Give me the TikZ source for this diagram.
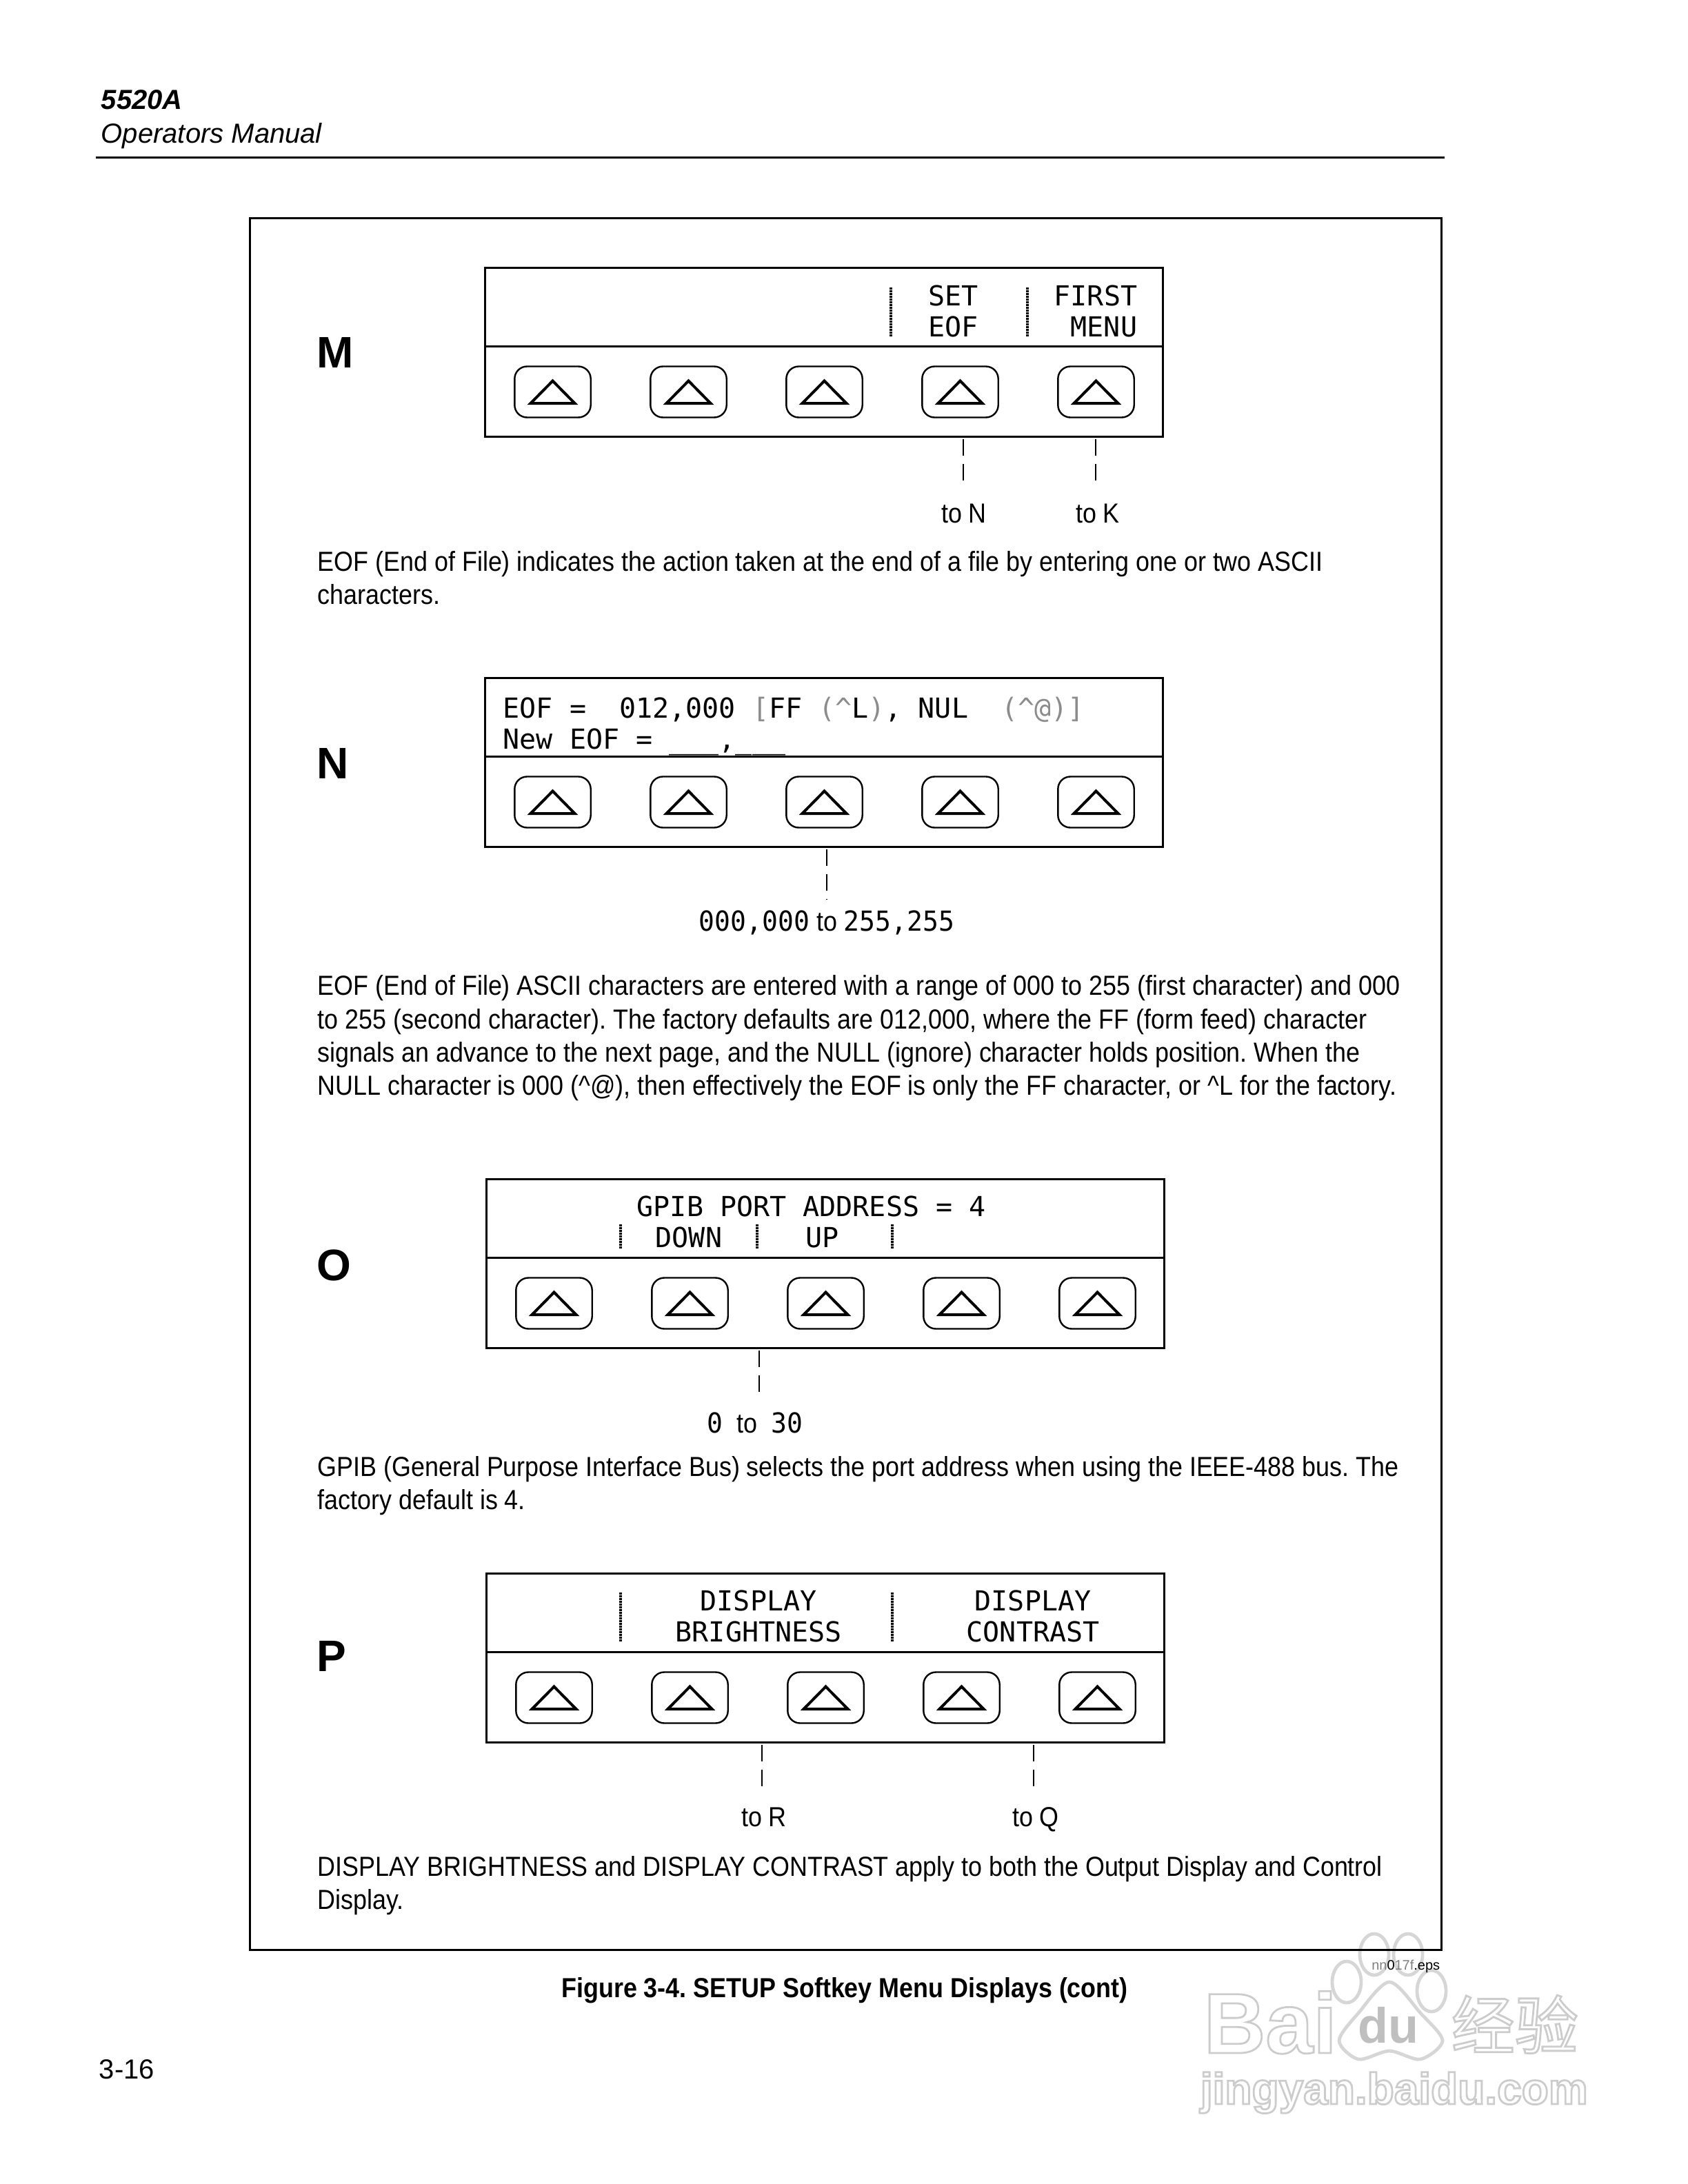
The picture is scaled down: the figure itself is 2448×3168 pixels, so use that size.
\documentclass[tikz,border=0pt]{standalone}
\usepackage{fontspec}
\setmainfont{Liberation Sans}
\newfontfamily\bodyfont{Liberation Sans}[FakeStretch=0.897]
\newfontfamily\lcdfont{DejaVu Sans Mono}
\newfontfamily\tagfont{DejaVu Sans Mono}[FakeStretch=0.95]
\newfontfamily\cjkfont{Noto Sans CJK SC}[BoldFont=*]
\usetikzlibrary{calc}
\definecolor{faintlcd}{gray}{0.55}
\definecolor{wmline}{gray}{0.8}
\tikzset{
  softpanel/.style={draw,line width=0.75pt,inner sep=0pt,outer sep=0pt,minimum width=245.75pt,minimum height=61.25pt},
  softkey/.style={draw,line width=0.6pt,rounded corners=4.5pt,inner sep=0pt,minimum width=27.6pt,minimum height=18.5pt},
  softbar/.style={line width=1.1pt,dash pattern=on 0.75pt off 0.25pt},
  softlink/.style={line width=0.4pt,dash pattern=on 6pt off 3pt,shorten <=1pt},
  lcd/.style={anchor=base west,inner sep=0pt,font=\lcdfont\fontsize{10}{12}\selectfont},
  body/.style={anchor=base west,inner sep=0pt,font=\bodyfont\fontsize{10}{12}\selectfont},
  tag/.style={anchor=base,inner sep=0pt,font=\bodyfont\fontsize{10}{12}\selectfont},
  letter/.style={anchor=base west,inner sep=0pt,font=\bfseries\fontsize{16}{18}\selectfont},
  wmtext/.style={anchor=base west,inner sep=0pt,text=wmline}
}
\newcommand{\softrow}[3]{
  \node[softpanel] (panel#1) at ({#2+491.5},{#3+122.5}) {};
  \draw[line width=0.75pt] (#2,#3+114) -- (#2+983,#3+114);
  \foreach \i in {1,...,5} {
    \node[softkey] (key#1\i) at ({#2+98.5+197*(\i-1)},{#3+180.5}) {};
    \draw[line width=1pt,miter limit=10] ($(key#1\i)+(0,-16)$) -- ($(key#1\i)+(32,16.5)$) -- ($(key#1\i)+(-32,16.5)$) -- cycle;
  }
}
\newcommand{\hollow}[1]{\special{pdf:code 1 Tr 0.7 w}#1\special{pdf:code 0 Tr}}
\begin{document}
\frenchspacing
\begin{tikzpicture}[x=0.25pt,y=-0.25pt]
\useasboundingbox (0,0) rectangle (2448,3168);

\foreach \x/\y in {1993/2835,2042/2835,1953/2875,2076/2888}
  \draw[wmline!80,line width=1.2pt] (\x,\y) ellipse [x radius=21,y radius=30];
\draw[wmline!80,line width=1.2pt] plot[smooth cycle] coordinates {(2015,2875) (2060,2920) (2092,2960) (2060,2987) (2015,2975) (1970,2987) (1942,2960) (1970,2920)};
\node[wmtext,font=\bfseries\fontsize{31}{31}\selectfont] (wmBai) at (1745,2978) {\hollow{Bai}};
\node[wmtext,text=gray!50,font=\bfseries\fontsize{18}{18}\selectfont] (wmDu) at (1969,2963) {du};
\node[wmtext,font=\cjkfont\bfseries\fontsize{23}{23}\selectfont] (wmCn) at (2104,2972) {\hollow{经验}};
\node[wmtext,font=\bfseries\fontsize{16}{17}\selectfont] (wmUrl) at (1740,3052) {\hollow{jingyan.baidu.com}};

\node[anchor=base west,inner sep=0pt,font=\bfseries\itshape\fontsize{10}{12}\selectfont] (model) at (146,159) {5520A};
\node[anchor=base west,inner sep=0pt,font=\itshape\fontsize{10}{12}\selectfont] (manual) at (146,208) {Operators Manual};
\draw[line width=0.75pt] (139,229) -- (2095,229);
\draw[line width=0.75pt] (362,316) rectangle (2090,2828);

\node[letter] (letterM) at (459,533) {M};
\softrow{M}{703}{388}
\draw[softbar] (1292,417) -- (1292,489);
\draw[softbar] (1490,417) -- (1490,489);
\node[lcd] (setA) at (1346,443) {SET};
\node[lcd] (setB) at (1346,488) {EOF};
\node[lcd] (firstA) at (1528,443) {FIRST};
\node[lcd] (firstB) at (1552,488) {MENU};
\coordinate (linkN) at (1397,709);
\coordinate (linkK) at (1589,709);
\draw[softlink] (panelM.south -| linkN) -- (linkN);
\draw[softlink] (panelM.south -| linkK) -- (linkK);
\node[tag] (toN) at (1398,758) {to N};
\node[tag] (toK) at (1592,758) {to K};
\node[body] (textMa) at (460,828) {EOF (End of File) indicates the action taken at the end of a file by entering one or two ASCII};
\node[body] (textMb) at (460,876) {characters.};

\node[letter] (letterN) at (459,1129) {N};
\softrow{N}{703}{983}
\node[lcd] (eofA) at (729,1041) {EOF =~~012,000 {\color{faintlcd}[}FF {\color{faintlcd}(\textasciicircum}L{\color{faintlcd})}, NUL~~{\color{faintlcd}(\textasciicircum @)]}};
\node[lcd] (eofB) at (729,1086) {New EOF = \_\_\_,\_\_\_};
\coordinate (linkE) at (1199,1305);
\draw[softlink] (panelN.south -| linkE) -- (linkE);
\node[tag] (toE) at (1199,1350) {{\tagfont 000,000} to {\tagfont 255,255}};
\node[body] (textNa) at (460,1443) {EOF (End of File) ASCII characters are entered with a range of 000 to 255 (first character) and 000};
\node[body] (textNb) at (460,1492) {to 255 (second character). The factory defaults are 012,000, where the FF (form feed) character};
\node[body] (textNc) at (460,1540) {signals an advance to the next page, and the NULL (ignore) character holds position. When the};
\node[body] (textNd) at (460,1588) {NULL character is 000 (\textasciicircum @), then effectively the EOF is only the FF character, or \textasciicircum L for the factory.};

\node[letter] (letterO) at (459,1857) {O};
\softrow{O}{705}{1710}
\node[lcd] (gpib) at (923,1764) {GPIB PORT ADDRESS = 4};
\draw[softbar] (900,1776) -- (900,1811);
\draw[softbar] (1098,1776) -- (1098,1811);
\draw[softbar] (1294,1776) -- (1294,1811);
\node[lcd] (down) at (950,1809) {DOWN};
\node[lcd] (up) at (1168,1809) {UP};
\coordinate (linkG) at (1101,2029);
\draw[softlink] (panelO.south -| linkG) -- (linkG);
\node[tag] (toG) at (1095,2078) {{\tagfont 0}~~to~~{\tagfont 30}};
\node[body] (textOa) at (460,2141) {GPIB (General Purpose Interface Bus) selects the port address when using the IEEE-488 bus. The};
\node[body] (textOb) at (460,2189) {factory default is 4.};

\node[letter] (letterP) at (459,2424) {P};
\softrow{P}{705}{2282}
\draw[softbar] (900,2310) -- (900,2382);
\draw[softbar] (1294,2310) -- (1294,2382);
\node[lcd] (dispA) at (1015,2336) {DISPLAY};
\node[lcd] (dispB) at (979,2381) {BRIGHTNESS};
\node[lcd] (contA) at (1413,2336) {DISPLAY};
\node[lcd] (contB) at (1401,2381) {CONTRAST};
\coordinate (linkR) at (1105,2600);
\coordinate (linkQ) at (1499,2600);
\draw[softlink] (panelP.south -| linkR) -- (linkR);
\draw[softlink] (panelP.south -| linkQ) -- (linkQ);
\node[tag] (toR) at (1108,2649) {to R};
\node[tag] (toQ) at (1502,2649) {to Q};
\node[body] (textPa) at (460,2721) {DISPLAY BRIGHTNESS and DISPLAY CONTRAST apply to both the Output Display and Control};
\node[body] (textPb) at (460,2769) {Display.};

\node[anchor=base east,inner sep=0pt,font=\fontsize{5}{6}\selectfont] (epsname) at (2089,2857) {{\color{gray}nn}0{\color{gray}17f}.eps};
\node[anchor=base,inner sep=0pt,font=\bodyfont\bfseries\fontsize{10}{12}\selectfont] (caption) at (1225,2897) {Figure 3-4. SETUP Softkey Menu Displays (cont)};
\node[anchor=base west,inner sep=0pt,font=\fontsize{10}{12}\selectfont] (pageno) at (143,3015) {3-16};
\end{tikzpicture}
\end{document}
